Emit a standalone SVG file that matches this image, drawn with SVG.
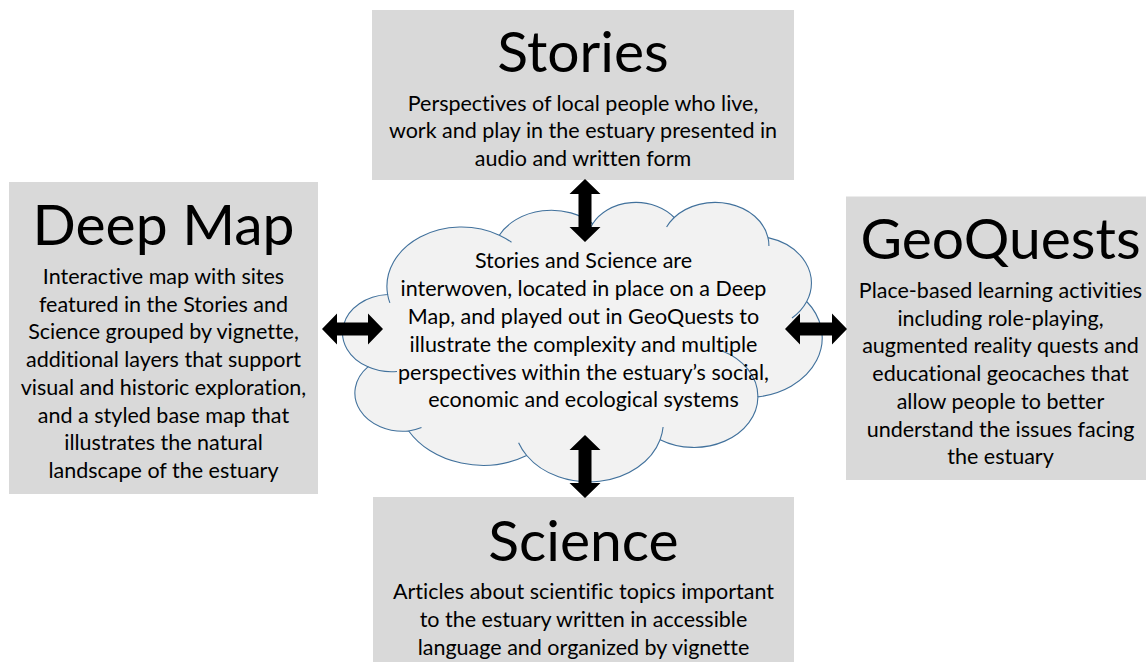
<svg xmlns="http://www.w3.org/2000/svg" width="1146" height="662" viewBox="0 0 1146 662">
  <style>
    .box { fill: #d9d9d9; }
    .head { font-family: Lato, "Open Sans", "Liberation Sans", sans-serif; font-size: 57px; fill: #000; text-anchor: middle; font-variant-ligatures: none; }
    .body { font-family: Lato, "Open Sans", "Liberation Sans", sans-serif; font-size: 21.5px; fill: #000; text-anchor: middle; font-variant-ligatures: none; }
    .cloud { fill: #f2f2f2; stroke: #41719c; stroke-width: 1.1; }
    .seam { fill: none; stroke: #41719c; stroke-width: 1.1; }
    .arrow { fill: #000; }
  </style>
  <rect width="1146" height="662" fill="#ffffff"/>

  <!-- Stories -->
  <g id="stories">
    <rect class="box" x="372" y="10" width="422" height="170"/>
    <text class="head" x="583" y="72">Stories</text>
    <text class="body" x="583" y="110.5">Perspectives of local people who live,</text>
    <text class="body" x="583" y="138.3">work and play in the estuary presented in</text>
    <text class="body" x="583" y="166">audio and written form</text>
  </g>

  <!-- Deep Map -->
  <g id="deep-map">
    <rect class="box" x="9" y="182" width="309" height="312"/>
    <text class="head" x="163.5" y="245.3">Deep Map</text>
    <text class="body" x="163.5" y="283.7">Interactive map with sites</text>
    <text class="body" x="163.5" y="311.5">featured in the Stories and</text>
    <text class="body" x="163.5" y="339.3">Science grouped by vignette,</text>
    <text class="body" x="163.5" y="367">additional layers that support</text>
    <text class="body" x="163.5" y="394.8">visual and historic exploration,</text>
    <text class="body" x="163.5" y="422.6">and a styled base map that</text>
    <text class="body" x="163.5" y="450.4">illustrates the natural</text>
    <text class="body" x="163.5" y="478.2">landscape of the estuary</text>
  </g>

  <!-- GeoQuests -->
  <g id="geoquests">
    <rect class="box" x="846" y="196.5" width="300" height="283.5"/>
    <text class="head" x="1000.5" y="259.3">GeoQuests</text>
    <text class="body" x="1000.5" y="297.7">Place-based learning activities</text>
    <text class="body" x="1000.5" y="325.5">including role-playing,</text>
    <text class="body" x="1000.5" y="353.3">augmented reality quests and</text>
    <text class="body" x="1000.5" y="381">educational geocaches that</text>
    <text class="body" x="1000.5" y="408.8">allow people to better</text>
    <text class="body" x="1000.5" y="436.6">understand the issues facing</text>
    <text class="body" x="1000.5" y="464.4">the estuary</text>
  </g>

  <!-- Science -->
  <g id="science">
    <rect class="box" x="373" y="497" width="421" height="165"/>
    <text class="head" x="583.5" y="560.5">Science</text>
    <text class="body" x="583.5" y="599">Articles about scientific topics important</text>
    <text class="body" x="583.5" y="626.8">to the estuary written in accessible</text>
    <text class="body" x="583.5" y="654.6">language and organized by vignette</text>
  </g>

  <!-- Central cloud -->
  <g id="hub">
    <path class="cloud" d="M387.6,294.5 A74.64,59.46 0 0,1 499.3,235.2 A58.95,47.02 0 0,1 592.7,223.7 A48.25,38.46 0 0,1 674.2,217.5 A53.68,42.67 0 0,1 768.0,237.6 A58.95,47.06 0 0,1 806.7,301.5 A74.88,59.65 0 0,1 757.9,396.9 A63.94,50.90 0 0,1 660.1,439.7 A74.63,59.62 0 0,1 526.7,455.5 A85.33,68.21 0 0,1 408.7,431.0 A48.19,38.29 0 0,1 367.9,366.8 A48.03,38.46 0 0,1 387.6,294.5 Z"/>
    <path class="seam" d="M389.9,302.9 A74.64,59.46 0 0,1 387.6,294.5 M397,371.5 A48.03,38.46 0 0,1 367.9,366.8 M421.5,427.6 A48.19,38.29 0 0,1 408.7,431.0 M526.7,455.5 A74.63,59.62 0 0,1 518.6,442.8 M663.1,427.0 A74.63,59.62 0 0,1 660.1,439.7 M721.0,350.4 A63.94,50.90 0 0,1 757.9,396.9 M806.7,301.5 A58.95,47.06 0 0,1 792.0,318.0 M768.0,237.6 A53.68,42.67 0 0,1 768.9,246.0 M666.6,227.1 A53.68,42.67 0 0,1 674.2,217.5 M589.3,231.0 A48.25,38.46 0 0,1 592.7,223.7 M499.3,235.2 A74.64,59.46 0 0,1 511.5,242.3"/>
    <text class="body" x="583.5" y="268.3">Stories and Science are</text>
    <text class="body" x="583.5" y="296.1">interwoven, located in place on a Deep</text>
    <text class="body" x="583.5" y="323.9">Map, and played out in GeoQuests to</text>
    <text class="body" x="583.5" y="351.7">illustrate the complexity and multiple</text>
    <text class="body" x="583.5" y="379.5">perspectives within the estuary’s social,</text>
    <text class="body" x="583.5" y="407.3">economic and ecological systems</text>
  </g>

  <!-- Double-headed connectors between the hub and the four boxes -->
  <g id="connectors">
    <path class="arrow" d="M585,179 L600.5,194 L591.5,194 L591.5,227 L600.5,227 L585,242 L569.5,227 L578.5,227 L578.5,194 L569.5,194 Z"/>
    <path class="arrow" d="M585,435 L600.5,450 L591.5,450 L591.5,483 L600.5,483 L585,498 L569.5,483 L578.5,483 L578.5,450 L569.5,450 Z"/>
    <path class="arrow" d="M322,329 L337,313.5 L337,322.5 L368,322.5 L368,313.5 L383,329 L368,344.5 L368,335.5 L337,335.5 L337,344.5 Z"/>
    <path class="arrow" d="M785,329 L800,313.5 L800,322.5 L832,322.5 L832,313.5 L847,329 L832,344.5 L832,335.5 L800,335.5 L800,344.5 Z"/>
  </g>
</svg>
